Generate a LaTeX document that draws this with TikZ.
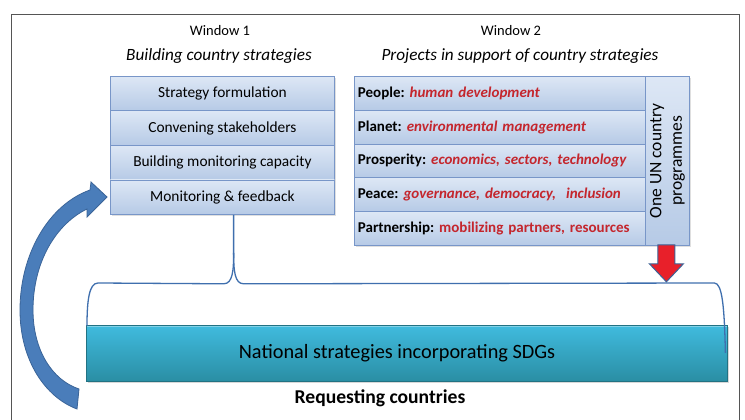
\documentclass[tikz,border=0pt]{standalone}
\usepackage{fontspec}
\setmainfont{Carlito}
\usetikzlibrary{calc,shadows}

\definecolor{boxtop}{HTML}{DDE7F5}
\definecolor{boxbot}{HTML}{B6CAE6}
\definecolor{boxline}{HTML}{7896C8}
\definecolor{redtxt}{HTML}{C4262D}
\definecolor{bartop}{HTML}{40BBDE}
\definecolor{barbot}{HTML}{2A8EA4}
\definecolor{arrowblue}{HTML}{4A7DBA}
\definecolor{arrowedge}{HTML}{3A6498}
\definecolor{bracecol}{HTML}{3F6FAE}
\definecolor{downred}{HTML}{E8202A}
\definecolor{framecol}{HTML}{555555}

\tikzset{
  stackbox/.style={draw=boxline, line width=0.8pt, top color=boxtop, bottom color=boxbot,
    inner sep=0pt, anchor=north west,
    drop shadow={opacity=0.25, shadow xshift=1.2pt, shadow yshift=-1.5pt}},
  lbox/.style={stackbox, minimum width=224pt, minimum height=34.5pt,
    font=\fontsize{15.4}{18}\selectfont},
  rbox/.style={stackbox, minimum width=291pt, minimum height=33.8pt,
    text width=284pt, inner xsep=3.5pt, align=left, font=\fontsize{15}{18}\selectfont\bfseries},
  colbox/.style={stackbox, minimum width=44pt, minimum height=169pt},
  head/.style={font=\fontsize{14.5}{17}\selectfont},
  subhead/.style={font=\fontsize{17.2}{20}\selectfont\itshape},
}

\begin{document}
\begin{tikzpicture}[x=1pt,y=-1pt]
\useasboundingbox (0,0) rectangle (745,420);
\fill[white] (0,0) rectangle (745,420);

% outer frame
\draw[framecol, line width=0.9pt] (11,421) -- (11,14) -- (739,14) -- (739,421);

% headings
\node[head] (w1) at (220,31) {Window 1};
\node[subhead] (w1s) at (219,56) {Building country strategies};
\node[head] (w2) at (511,31) {Window 2};
\node[subhead] (w2s) at (520,56) {Projects in support of country strategies};

% window 1 stack
\node[lbox] (s1) at (110,76) {Strategy formulation};
\node[lbox] (s2) at (110,110.5) {Convening stakeholders};
\node[lbox] (s3) at (110,145) {Building monitoring capacity};
\node[lbox] (s4) at (110,179.5) {Monitoring \& feedback};

% window 2 stack
\node[rbox] (p1) at (354,76) {People:{\color{redtxt}\itshape\ human development}};
\node[rbox] (p2) at (354,109.8) {Planet:{\color{redtxt}\itshape\ environmental management}};
\node[rbox] (p3) at (354,143.6) {Prosperity:{\color{redtxt}\itshape\ economics, sectors, technology}};
\node[rbox] (p4) at (354,177.4) {Peace:{\color{redtxt}\itshape\ governance, democracy,\ \ inclusion}};
\node[rbox] (p5) at (354,211.2) {Partnership:{\color{redtxt}\ mobilizing partners, resources}};
\node[colbox] (un) at (645,76) {};
\node[rotate=90, align=center, font=\fontsize{17.5}{20.5}\selectfont] (untext) at (un.center)
  {One UN country\\programmes};

% national strategies bar
\node[anchor=north west, minimum width=641pt, minimum height=56pt, inner sep=0pt,
      top color=bartop, bottom color=barbot, draw=barbot!80!black, line width=0.4pt,
      drop shadow={opacity=0.3, shadow xshift=1.5pt, shadow yshift=-2pt}] (nat) at (86,325) {};
\draw[white, opacity=0.35, line width=1.2pt] ($(nat.north west)+(0.6,1.2)$) -- ($(nat.north east)+(-0.6,1.2)$);
\node[font=\fontsize{20.3}{22}\selectfont] (nattext) at (397,353) {National strategies incorporating SDGs};
\node[font=\fontsize{19.6}{22}\selectfont\bfseries] (req) at (380,398) {Requesting countries};

% brace from the monitoring box down to the bar
\coordinate (bstem) at ($(s4.south west)!0.55!(s4.south east)$);
\coordinate (bfork) at ($(bstem)+(0,38)$);
\coordinate (bleft) at ($(nat.north west)+(1,1)$);
\coordinate (bright) at ($(nat.north east)+(-2,28)$);
\draw[bracecol, line width=1.3pt]
  (bleft) .. controls ($(bleft)+(0,-25)$) and ($(bleft)+(2,-43)$) .. ($(bleft)+(11,-43)$)
  -- ($(bfork)+(-10,31)$) .. controls ($(bfork)+(-1,31)$) and ($(bfork)+(0,18)$) .. (bfork)
  -- (bstem);
\draw[bracecol, line width=1.3pt]
  (bfork) .. controls ($(bfork)+(0,18)$) and ($(bfork)+(1,31)$) .. ($(bfork)+(10,31)$)
  -- ($(bright)+(-11,-70)$) .. controls ($(bright)+(-3,-70)$) and ($(bright)+(-1,-45)$) .. (bright);

% red arrow from the One UN column
\coordinate (ra) at ($(un.south)+(-1,0)$);
\filldraw[fill=downred, draw=arrowedge, line width=1pt, line join=miter]
  ($(ra)+(-8.5,-1)$) -- ($(ra)+(8.5,-1)$) -- ($(ra)+(8.5,18)$) -- ($(ra)+(17,18)$)
  -- ($(ra)+(0,36)$) -- ($(ra)+(-17,18)$) -- ($(ra)+(-8.5,18)$) -- cycle;

% curved blue arrow back to monitoring
\filldraw[fill=arrowblue, draw=arrowedge, line width=0.8pt, line join=miter]
  (77,409) .. controls (45,397) and (20,360) .. (20,310)
  .. controls (20,255) and (48,205) .. (90,190)
  -- (91,182) -- (107,197) -- (87,217) -- (87,209)
  .. controls (56,224) and (33,262) .. (33,310)
  .. controls (33,350) and (52,380) .. (79,389)
  -- cycle;
\end{tikzpicture}
\end{document}
